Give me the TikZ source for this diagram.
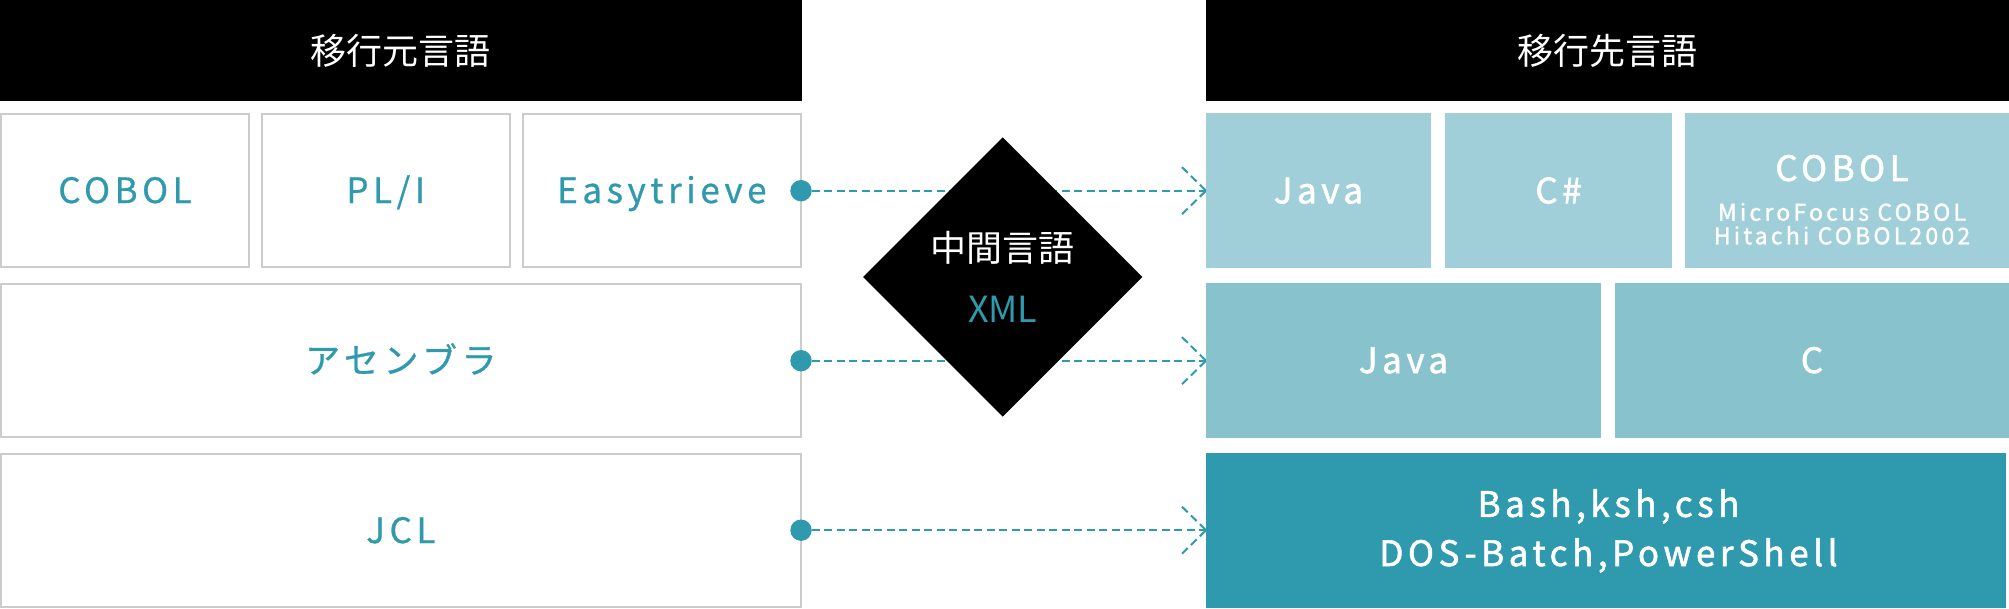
\documentclass[tikz,border=0pt]{standalone}
\usepackage{fontspec}
\setmainfont{Noto Sans CJK JP}
\newfontfamily\lsfont[LetterSpace=13,FakeBold=0.7]{Noto Sans CJK JP}
\newfontfamily\lsmed[LetterSpace=13,FakeBold=1.6]{Noto Sans CJK JP}
\newfontfamily\subfont[LetterSpace=14,FakeBold=1.4]{Noto Sans CJK JP}
\usetikzlibrary{shapes.geometric}
\definecolor{teal0}{HTML}{2F9AAE}
\definecolor{blueA}{HTML}{A0CED9}
\definecolor{blueB}{HTML}{88C2CC}
\definecolor{grayB}{HTML}{CCCCCC}
\begin{document}
\begin{tikzpicture}[x=1pt,y=-1pt,
  hdr/.style={fill=black, draw=none, text=white, font=\fontsize{36}{43}\selectfont, inner sep=0, minimum height=101pt},
  lbox/.style={draw=grayB, line width=2pt, fill=white, text=teal0, font=\lsfont\fontsize{35}{42}\selectfont, inner sep=0, text height=25.7pt, text depth=0pt, minimum height=153pt},
  rbox/.style={draw=none, text=white, font=\lsmed\fontsize{35}{42}\selectfont, inner sep=0, text height=25.7pt, text depth=0pt, minimum height=154.6pt},
  rtxt/.style={text=white, font=\lsmed\fontsize{35}{42}\selectfont, inner sep=0, anchor=base},
  rsub/.style={text=white, font=\subfont\fontsize{23}{27}\selectfont, inner sep=0, anchor=base},
  conn/.style={draw=teal0, line width=2pt, dash pattern=on 8pt off 4.5pt},
  dot/.style={circle, fill=teal0, inner sep=0, minimum size=21.4pt},
]
\useasboundingbox (0,0) rectangle (2009,609);
% headers
\node[hdr, minimum width=801.7pt] (hL) at (400.85,50.5) {移行元言語};
\node[hdr, minimum width=802.8pt] (hR) at (1607.6,50.5) {移行先言語};
% left boxes
\node[lbox, minimum width=248pt] (lcobol) at (125,190.2) {COBOL};
\node[lbox, minimum width=247.5pt] (lpli) at (385.75,190.2) {PL/I};
\node[lbox, minimum width=277.7pt] (leasy) at (661.85,190.2) {Easytrieve};
\node[lbox, minimum width=799.7pt] (lasm) at (400.85,360.35) {アセンブラ};
\node[lbox, minimum width=799.7pt] (ljcl) at (400.85,530.2) {JCL};
% right boxes
\node[rbox, fill=blueA, minimum width=224.8pt] (rjava1) at (1318.4,190.5) {Java};
\node[rbox, fill=blueA, minimum width=226.2pt] (rcs) at (1558.5,190.5) {C\#};
\node[rbox, fill=blueA, minimum width=324.4pt] (rcobol) at (1846.8,190.5) {};
\node[rtxt] (rcobolT) at (1842,181) {COBOL};
\node[rsub] (rsub1) at (1842,220.7) {MicroFocus COBOL};
\node[rsub] (rsub2) at (1842,244.3) {Hitachi COBOL2002};
\node[rbox, fill=blueB, minimum width=395pt, minimum height=155pt] (rjava2) at (1403.5,360.2) {Java};
\node[rbox, fill=blueB, minimum width=394pt, minimum height=155pt] (rc) at (1812,360.2) {C};
\node[rbox, fill=teal0, minimum width=800.4pt, minimum height=155pt] (rsh) at (1606.2,530.2) {};
\node[rtxt] (rsh1) at (1608.5,516.9) {Bash,ksh,csh};
\node[rtxt] (rsh2) at (1608.5,566) {DOS-Batch,PowerShell};
% dots and connectors
\node[dot] (d1) at (801,190.7) {};
\node[dot] (d2) at (801,360.7) {};
\node[dot] (d3) at (801,530.2) {};
\coordinate (t1) at (1206,190.7);
\coordinate (t2) at (1206,360.7);
\coordinate (t3) at (1206,530.2);
\foreach \i in {1,2,3}{
  \draw[conn] (d\i) -- (t\i);
  \draw[conn] (t\i) ++(-24,-23.5) -- (t\i);
  \draw[conn] (t\i) ++(-24,23.5) -- (t\i);
}
% intermediate language
\node[diamond, fill=black, aspect=1, inner sep=0, minimum width=279.4pt, minimum height=279.4pt] (mid) at (1002.7,277) {};
\node[text=white, font=\fontsize{36}{43}\selectfont, inner sep=0] (midT) at (1002.7,248.3) {中間言語};
\node[text=teal0, font=\fontsize{36}{43}\selectfont, inner sep=0, anchor=base] (xml) at (1002.7,322.7) {XML};
\end{tikzpicture}
\end{document}
